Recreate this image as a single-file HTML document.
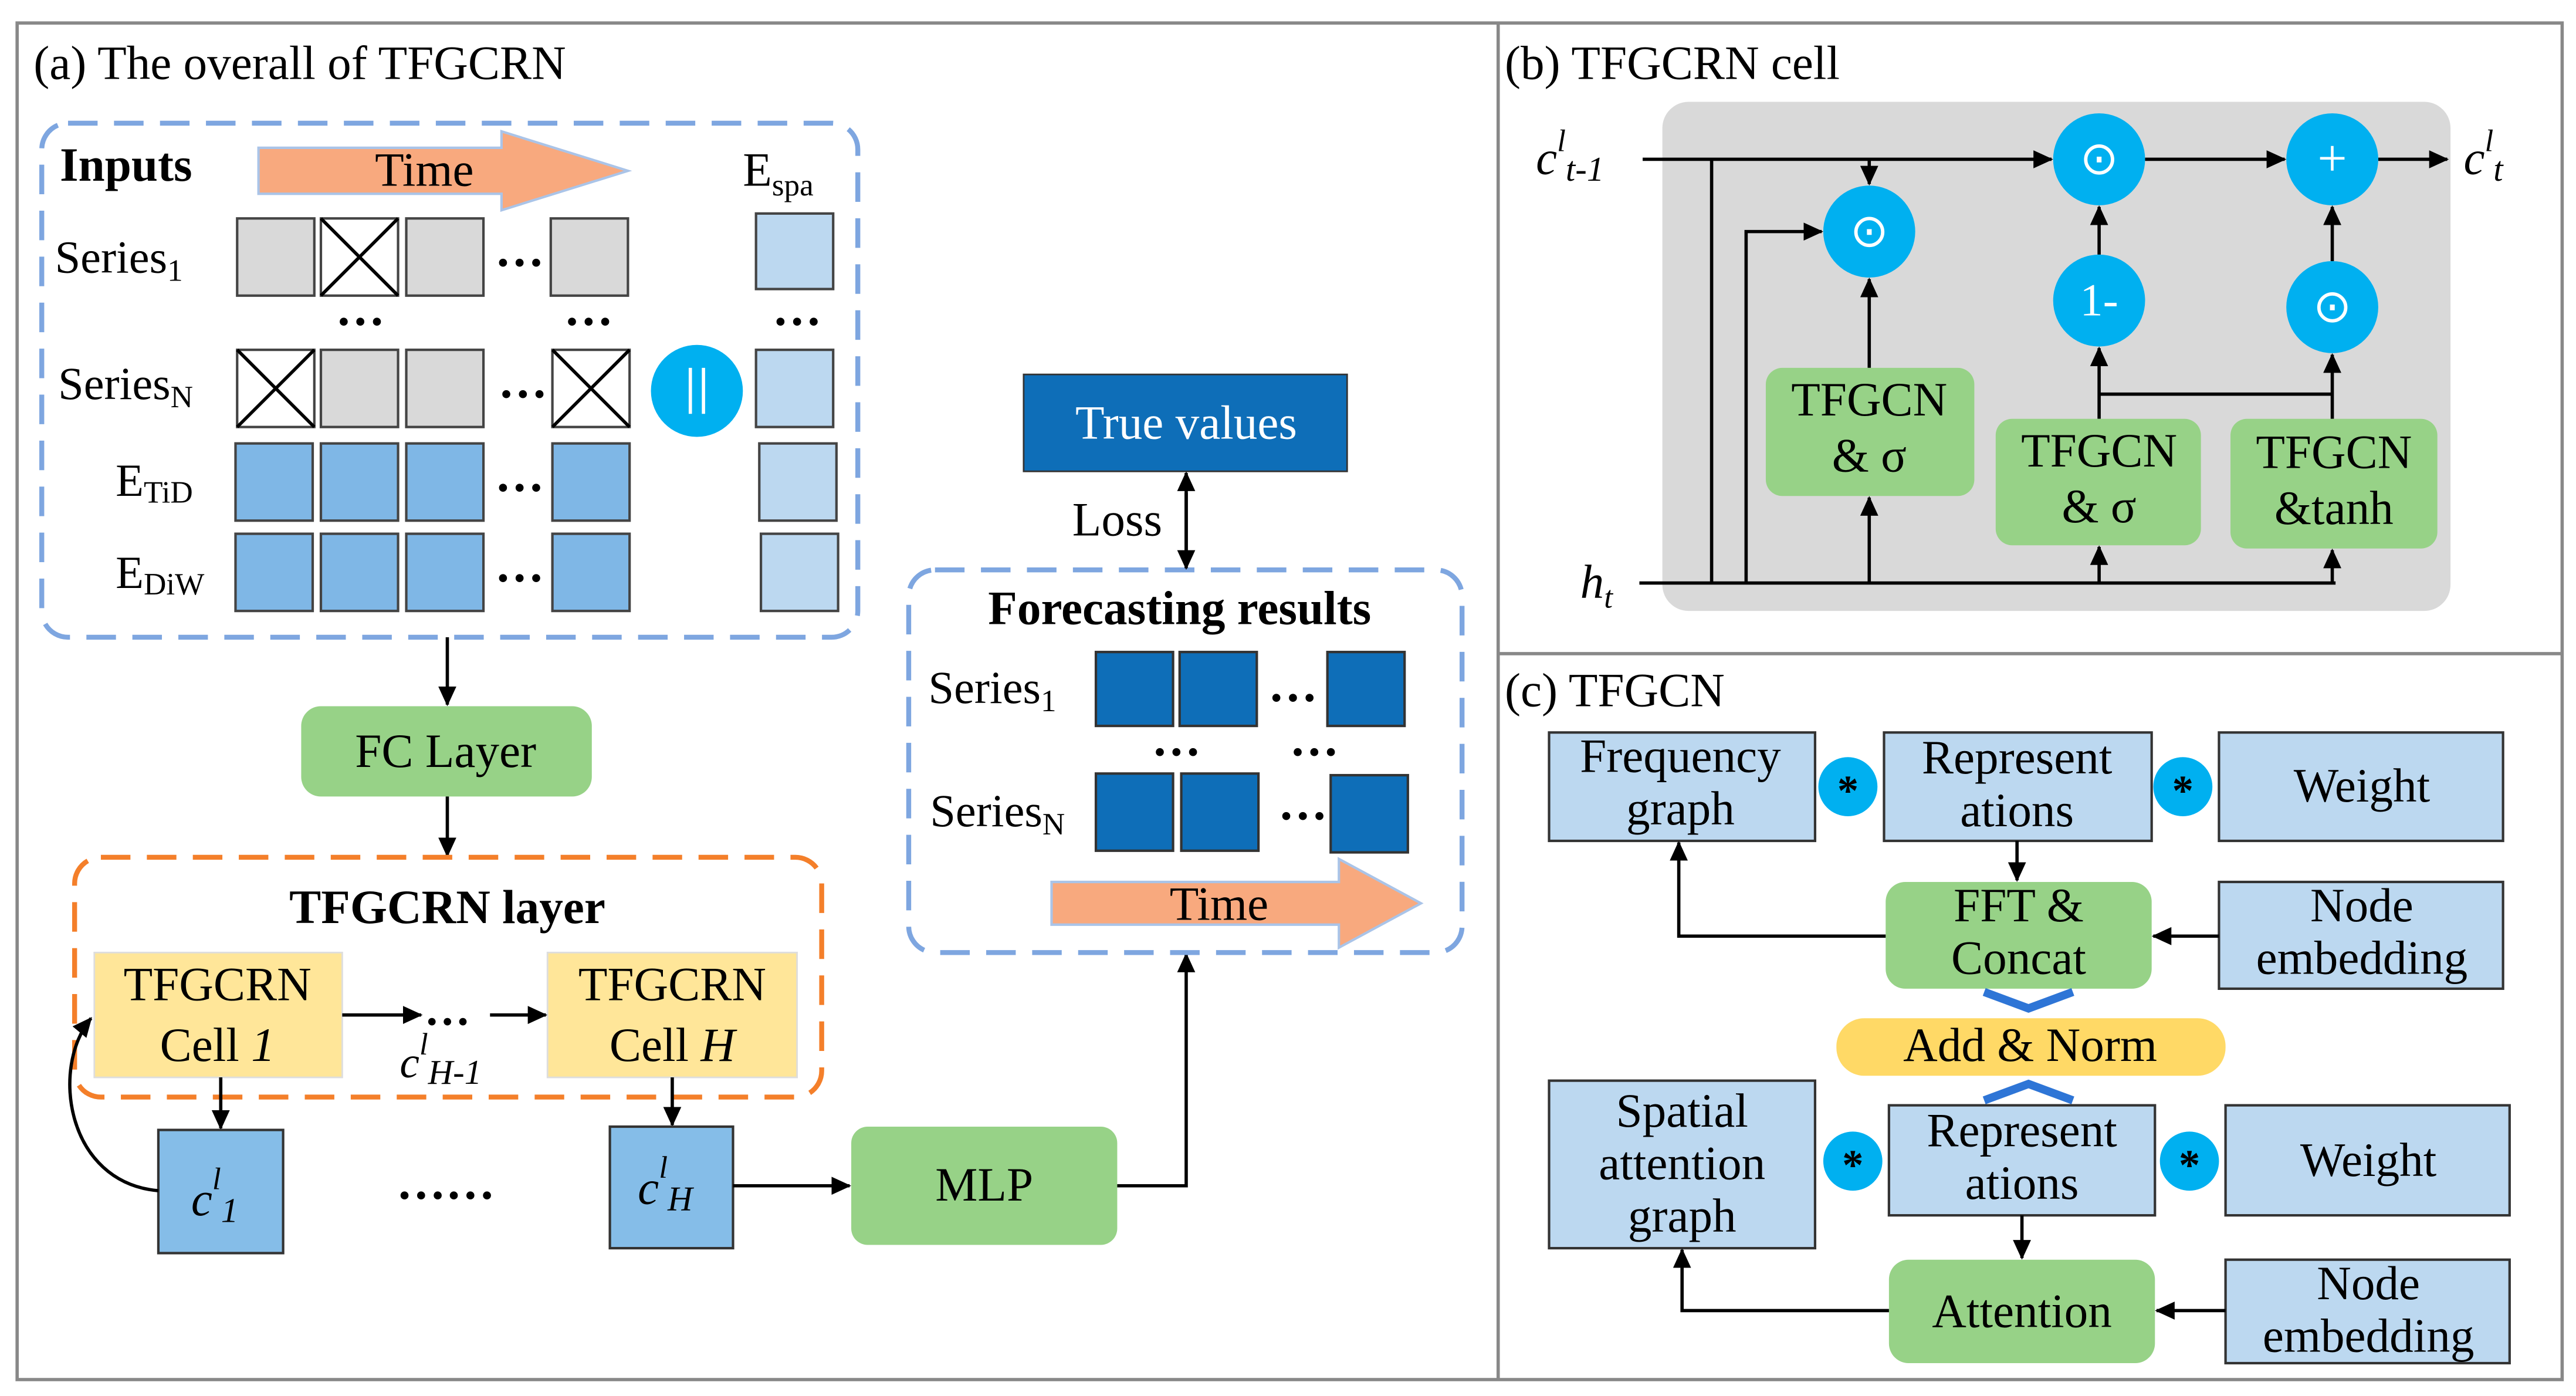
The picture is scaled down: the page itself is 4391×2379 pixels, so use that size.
<!DOCTYPE html>
<html><head><meta charset="utf-8"><style>html,body{margin:0;padding:0;background:#fff}svg{display:block}svg text{font-family:"Liberation Serif","Times New Roman",serif !important;}</style></head><body>
<svg width="4391" height="2379" viewBox="0 0 1568 850" xmlns="http://www.w3.org/2000/svg" font-family="Liberation Serif, serif">
<defs>
<marker id="a" markerWidth="12" markerHeight="12" refX="11" refY="6" orient="auto" markerUnits="userSpaceOnUse"><path d="M0,0.5 L12,6 L0,11.5 z" fill="#000"/></marker>
</defs>
<g stroke="#888" stroke-width="2" fill="none">
<rect x="10" y="14" width="1550" height="826"/>
<line x1="912" y1="14" x2="912" y2="840"/>
<line x1="912" y1="398" x2="1560" y2="398"/>
</g>
<g font-size="29">
<text x="20" y="48">(a) The overall of TFGCRN</text>
<text x="916" y="48">(b) TFGCRN cell</text>
<text x="916" y="430">(c) TFGCN</text>
</g>

<!-- Inputs -->
<rect x="25" y="75" width="497" height="313" rx="16" fill="none" stroke="#7ea6e0" stroke-width="3" stroke-dasharray="18,10"/>
<text x="36" y="110" font-size="29" font-weight="bold">Inputs</text>
<path d="M157,90 H305 V80 L382,104 L305,128 V118 H157 Z" fill="#f8a97e" stroke="#aac4e8" stroke-width="1.5"/>
<text x="258" y="113" font-size="29" text-anchor="middle">Time</text>
<text x="452" y="113" font-size="29">E<tspan font-size="19" dy="6">spa</tspan></text>
<g font-size="28">
<text x="33" y="166">Series<tspan font-size="19" dy="5">1</tspan></text>
<text x="35" y="243">Series<tspan font-size="19" dy="5">N</tspan></text>
<text x="70" y="302">E<tspan font-size="19" dy="4">TiD</tspan></text>
<text x="70" y="358">E<tspan font-size="19" dy="4">DiW</tspan></text>
</g>
<g stroke="#444" stroke-width="1.5" fill="#d9d9d9">
<rect x="144" y="133" width="47" height="47"/><rect x="195" y="133" width="47" height="47" fill="#fff"/><rect x="247" y="133" width="47" height="47"/><rect x="335" y="133" width="47" height="47"/>
<rect x="144" y="213" width="47" height="47" fill="#fff"/><rect x="195" y="213" width="47" height="47"/><rect x="247" y="213" width="47" height="47"/><rect x="336" y="213" width="47" height="47" fill="#fff"/>
</g>
<g stroke="#000" stroke-width="2">
<path d="M195,133 L242,180 M242,133 L195,180"/>
<path d="M144,213 L191,260 M191,213 L144,260"/>
<path d="M336,213 L383,260 M383,213 L336,260"/>
</g>
<g stroke="#444" stroke-width="1.5" fill="#7fb7e6">
<rect x="143" y="270" width="47" height="47"/><rect x="195" y="270" width="47" height="47"/><rect x="247" y="270" width="47" height="47"/><rect x="336" y="270" width="47" height="47"/>
<rect x="143" y="325" width="47" height="47"/><rect x="195" y="325" width="47" height="47"/><rect x="247" y="325" width="47" height="47"/><rect x="336" y="325" width="47" height="47"/>
</g>
<g stroke="#444" stroke-width="1.5" fill="#bcd8f0">
<rect x="460" y="130" width="47" height="46"/><rect x="460" y="213" width="47" height="47"/><rect x="462" y="270" width="47" height="47"/><rect x="463" y="325" width="47" height="47"/>
</g>
<g font-size="30" font-weight="bold">
<text x="301" y="162">…</text><text x="303" y="242">…</text><text x="301" y="299">…</text><text x="301" y="354">…</text>
<text x="204" y="198">…</text><text x="343" y="198">…</text><text x="470" y="198">…</text>
</g>
<circle cx="424" cy="238" r="28" fill="#00b0f0"/>
<path d="M420,224 V252 M428,224 V252" stroke="#fff" stroke-width="2"/>

<line x1="272" y1="388" x2="272" y2="429" stroke="#000" stroke-width="2" marker-end="url(#a)"/>
<rect x="183" y="430" width="177" height="55" rx="12" fill="#97d287"/>
<text x="271" y="467" font-size="29" text-anchor="middle">FC Layer</text>
<line x1="272" y1="485" x2="272" y2="521" stroke="#000" stroke-width="2" marker-end="url(#a)"/>

<rect x="45" y="522" width="455" height="146" rx="16" fill="none" stroke="#f47f2a" stroke-width="3" stroke-dasharray="18,10"/>
<text x="272" y="562" font-size="29" font-weight="bold" text-anchor="middle">TFGCRN layer</text>
<rect x="57" y="580" width="151" height="76" fill="#ffe699" stroke="#ddd"/>
<rect x="333" y="580" width="152" height="76" fill="#ffe699" stroke="#ddd"/>
<g font-size="29" text-anchor="middle">
<text x="132" y="609">TFGCRN</text><text x="132" y="646">Cell <tspan font-style="italic">1</tspan></text>
<text x="409" y="609">TFGCRN</text><text x="409" y="646">Cell <tspan font-style="italic">H</tspan></text>
</g>
<line x1="208" y1="618" x2="256" y2="618" stroke="#000" stroke-width="2" marker-end="url(#a)"/>
<text x="258" y="624" font-size="28" font-weight="bold">…</text>
<line x1="298" y1="618" x2="332" y2="618" stroke="#000" stroke-width="2" marker-end="url(#a)"/>
<text x="243" y="656" font-size="27" font-style="italic">c<tspan font-size="19" dy="-14">l</tspan><tspan font-size="21" dy="18">H-1</tspan></text>
<line x1="134" y1="656" x2="134" y2="687" stroke="#000" stroke-width="2" marker-end="url(#a)"/>
<line x1="409" y1="656" x2="409" y2="685" stroke="#000" stroke-width="2" marker-end="url(#a)"/>
<rect x="96" y="688" width="76" height="75" fill="#85bde8" stroke="#333" stroke-width="1.5"/>
<rect x="371" y="686" width="75" height="74" fill="#85bde8" stroke="#333" stroke-width="1.5"/>
<text x="116" y="740" font-size="29" font-style="italic">c<tspan font-size="19" dy="-16">l</tspan><tspan font-size="21" dy="20">1</tspan></text>
<text x="388" y="733" font-size="29" font-style="italic">c<tspan font-size="19" dy="-16">l</tspan><tspan font-size="21" dy="20">H</tspan></text>
<path d="M96,725 C40,720 30,650 55,620" fill="none" stroke="#000" stroke-width="2" marker-end="url(#a)"/>
<text x="241" y="730" font-size="30" font-weight="bold">……</text>
<line x1="446" y1="722" x2="517" y2="722" stroke="#000" stroke-width="2" marker-end="url(#a)"/>
<rect x="518" y="686" width="162" height="72" rx="10" fill="#97d287"/>
<text x="599" y="731" font-size="29" text-anchor="middle">MLP</text>
<path d="M680,722 H722 V581" fill="none" stroke="#000" stroke-width="2" marker-end="url(#a)"/>

<!-- forecasting -->
<rect x="553" y="347" width="337" height="233" rx="16" fill="none" stroke="#7ea6e0" stroke-width="3" stroke-dasharray="18,10"/>
<text x="718" y="380" font-size="29" font-weight="bold" text-anchor="middle">Forecasting results</text>
<g font-size="28">
<text x="565" y="428">Series<tspan font-size="19" dy="5">1</tspan></text>
<text x="566" y="503">Series<tspan font-size="19" dy="5">N</tspan></text>
</g>
<g fill="#0e6eb8" stroke="#333" stroke-width="1.5">
<rect x="667" y="397" width="47" height="45"/><rect x="718" y="397" width="47" height="45"/><rect x="808" y="397" width="47" height="45"/>
<rect x="667" y="471" width="47" height="47"/><rect x="719" y="471" width="47" height="47"/><rect x="810" y="472" width="47" height="47"/>
</g>
<g font-size="30" font-weight="bold">
<text x="772" y="427">…</text><text x="778" y="499">…</text><text x="701" y="460">…</text><text x="785" y="460">…</text>
</g>
<path d="M640,537 H815 V523 L865,550 L815,577 V563 H640 Z" fill="#f8a97e" stroke="#aac4e8" stroke-width="1.5"/>
<text x="742" y="560" font-size="29" text-anchor="middle">Time</text>
<rect x="623" y="228" width="197" height="59" fill="#0e6eb8" stroke="#333"/>
<text x="722" y="267" font-size="29" text-anchor="middle" fill="#fff">True values</text>
<line x1="722" y1="300" x2="722" y2="346" stroke="#000" stroke-width="2" marker-end="url(#a)"/>
<line x1="722" y1="335" x2="722" y2="288" stroke="#000" stroke-width="2" marker-end="url(#a)"/>
<text x="680" y="326" font-size="29" text-anchor="middle">Loss</text>

<!-- (b) -->
<rect x="1012" y="62" width="480" height="310" rx="16" fill="#d9d9d9"/>
<text x="935" y="106" font-size="29" font-style="italic">c<tspan font-size="19" dy="-14">l</tspan><tspan font-size="21" dy="18">t-1</tspan></text>
<text x="1500" y="106" font-size="29" font-style="italic">c<tspan font-size="19" dy="-14">l</tspan><tspan font-size="21" dy="18">t</tspan></text>
<text x="962" y="364" font-size="29" font-style="italic">h<tspan font-size="19" dy="6">t</tspan></text>
<g stroke="#000" stroke-width="2" fill="none">
<line x1="1000" y1="97" x2="1249" y2="97" marker-end="url(#a)"/>
<line x1="1306" y1="97" x2="1391" y2="97" marker-end="url(#a)"/>
<line x1="1448" y1="97" x2="1490" y2="97" marker-end="url(#a)"/>
<line x1="1138" y1="97" x2="1138" y2="112" marker-end="url(#a)"/>
<line x1="1042" y1="97" x2="1042" y2="355"/>
<line x1="998" y1="355" x2="1422" y2="355"/>
<path d="M1063,355 V141 H1109" marker-end="url(#a)"/>
<line x1="1138" y1="224" x2="1138" y2="170" marker-end="url(#a)"/>
<line x1="1278" y1="255" x2="1278" y2="212" marker-end="url(#a)"/>
<line x1="1278" y1="155" x2="1278" y2="126" marker-end="url(#a)"/>
<line x1="1420" y1="255" x2="1420" y2="216" marker-end="url(#a)"/>
<line x1="1420" y1="159" x2="1420" y2="126" marker-end="url(#a)"/>
<line x1="1278" y1="240" x2="1420" y2="240"/>
<line x1="1138" y1="355" x2="1138" y2="303" marker-end="url(#a)"/>
<line x1="1278" y1="355" x2="1278" y2="333" marker-end="url(#a)"/>
<line x1="1420" y1="355" x2="1420" y2="335" marker-end="url(#a)"/>
</g>
<g fill="#00b0f0">
<circle cx="1278" cy="97" r="28"/><circle cx="1420" cy="97" r="28"/><circle cx="1138" cy="141" r="28"/><circle cx="1278" cy="183" r="28"/><circle cx="1420" cy="187" r="28"/>
</g>
<g font-size="28" text-anchor="middle" fill="#fff">
<text x="1278" y="106">⊙</text><text x="1420" y="107" font-size="32">+</text><text x="1138" y="150">⊙</text><text x="1278" y="192">1-</text><text x="1420" y="196">⊙</text>
</g>
<g fill="#97d287">
<rect x="1075" y="224" width="127" height="78" rx="10"/><rect x="1215" y="255" width="125" height="77" rx="10"/><rect x="1358" y="255" width="126" height="79" rx="10"/>
</g>
<g font-size="29" text-anchor="middle">
<text x="1138" y="253">TFGCN</text><text x="1138" y="287">&amp; σ</text>
<text x="1278" y="284">TFGCN</text><text x="1278" y="318">&amp; σ</text>
<text x="1421" y="285">TFGCN</text><text x="1421" y="319">&amp;tanh</text>
</g>

<!-- (c) -->
<g fill="#bcd8f0" stroke="#333" stroke-width="1.5">
<rect x="943" y="446" width="162" height="66"/><rect x="1147" y="446" width="163" height="66"/><rect x="1351" y="446" width="173" height="66"/>
<rect x="1351" y="537" width="173" height="65"/>
<rect x="943" y="658" width="162" height="102"/><rect x="1150" y="673" width="162" height="67"/><rect x="1355" y="673" width="173" height="67"/>
<rect x="1355" y="767" width="173" height="63"/>
</g>
<rect x="1148" y="537" width="162" height="65" rx="12" fill="#97d287"/>
<rect x="1150" y="767" width="162" height="63" rx="12" fill="#97d287"/>
<rect x="1118" y="620" width="237" height="35" rx="17" fill="#ffd966"/>
<g fill="#00b0f0"><circle cx="1125" cy="479" r="18"/><circle cx="1329" cy="479" r="18"/><circle cx="1128" cy="707" r="18"/><circle cx="1333" cy="707" r="18"/></g>
<g font-size="26" font-weight="bold" text-anchor="middle"><text x="1125" y="490">*</text><text x="1329" y="490">*</text><text x="1128" y="718">*</text><text x="1333" y="718">*</text></g>
<path d="M1208,604 L1235,614 L1262,604" fill="none" stroke="#2e75d6" stroke-width="5"/>
<path d="M1208,670 L1235,660 L1262,670" fill="none" stroke="#2e75d6" stroke-width="5"/>
<g font-size="29" text-anchor="middle">
<text x="1023" y="470">Frequency</text><text x="1023" y="502">graph</text>
<text x="1228" y="471">Represent</text><text x="1228" y="503">ations</text>
<text x="1438" y="488">Weight</text>
<text x="1229" y="561">FFT &amp;</text><text x="1229" y="593">Concat</text>
<text x="1438" y="561">Node</text><text x="1438" y="593">embedding</text>
<text x="1236" y="646">Add &amp; Norm</text>
<text x="1024" y="686">Spatial</text><text x="1024" y="718">attention</text><text x="1024" y="750">graph</text>
<text x="1231" y="698">Represent</text><text x="1231" y="730">ations</text>
<text x="1442" y="716">Weight</text>
<text x="1231" y="808">Attention</text>
<text x="1442" y="791">Node</text><text x="1442" y="823">embedding</text>
</g>
<g stroke="#000" stroke-width="2" fill="none">
<line x1="1228" y1="512" x2="1228" y2="536" marker-end="url(#a)"/>
<line x1="1351" y1="570" x2="1311" y2="570" marker-end="url(#a)"/>
<path d="M1148,570 H1022 V513" marker-end="url(#a)"/>
<line x1="1231" y1="740" x2="1231" y2="766" marker-end="url(#a)"/>
<line x1="1355" y1="798" x2="1313" y2="798" marker-end="url(#a)"/>
<path d="M1150,798 H1024 V761" marker-end="url(#a)"/>
</g>
</svg>
</body></html>
